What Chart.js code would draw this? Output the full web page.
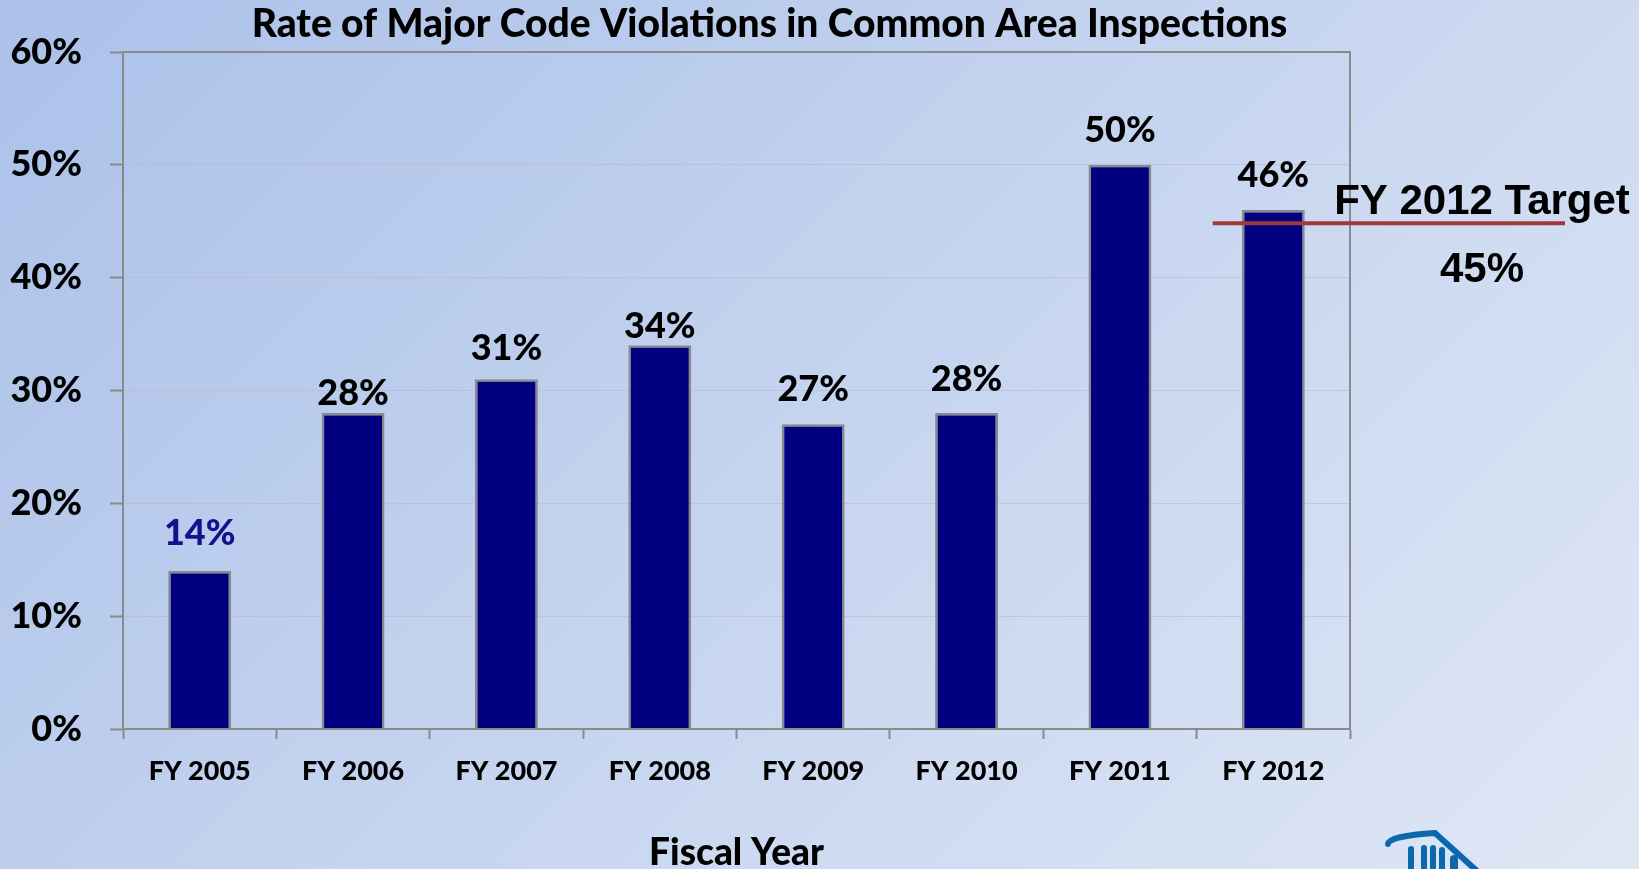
<!DOCTYPE html>
<html>
<head>
<meta charset="utf-8">
<script src="https://cdn.jsdelivr.net/npm/chart.js@4.4.0/dist/chart.umd.min.js"></script>
<style>
    html, body { margin: 0; padding: 0; }
    body {
        width: 1639px; height: 869px; overflow: hidden; position: relative;
        background: linear-gradient(135deg, #abc1e9 0%, #c5d4ef 50%, #dfe7f5 100%);
    }
    #chart { position: absolute; left: 0; top: 0; }
    #logo { position: absolute; left: 1380px; top: 825px; }
</style>
</head>
<body>
<canvas id="chart" width="1639" height="869"></canvas>
<svg id="logo" width="100" height="44" viewBox="0 0 100 44">
    <g fill="none" stroke="#0b68ac" stroke-linecap="round">
        <path d="M8 19 Q9 11 55 8 L97 46" stroke-width="6"/>
        <path d="M31 24 V46 M44 23 V46 M53 23 V46 M62 25 V46" stroke-width="6"/>
        <path d="M74 34 V46" stroke-width="8"/>
    </g>
</svg>
<script>
const years = ['FY 2005', 'FY 2006', 'FY 2007', 'FY 2008', 'FY 2009', 'FY 2010', 'FY 2011', 'FY 2012'];
const rates = [14, 28, 31, 34, 27, 28, 50, 46];
const yMin = 0;
const yMax = 60;
const yStep = 10;
const targetValue = 45;
const targetText = ['FY 2012 Target', '45%'];
const chartTitle = 'Rate of Major Code Violations in Common Area Inspections';
const xTitle = 'Fiscal Year';

const frameGray = '#8a8a8a';
const heavy = '900';
// gap between bar top and label baseline, labels were placed by hand in the original
const labelLift = [26, 8, 19, 7, 23, 22, 23, 23];

// frame, value labels, target line and title
const overlay = {
    id: 'overlay',
    afterDatasetsDraw(chart) {
        const { ctx, chartArea: a, scales: { x, y } } = chart;
        ctx.save();

        ctx.strokeStyle = frameGray;
        ctx.lineWidth = 2;
        ctx.strokeRect(a.left, a.top, a.right - a.left, a.bottom - a.top);

        ctx.font = heavy + ' 36px Lato';
        ctx.textAlign = 'center';
        ctx.textBaseline = 'alphabetic';
        chart.getDatasetMeta(0).data.forEach((bar, i) => {
            ctx.fillStyle = i === 0 ? '#12128c' : '#000';
            ctx.fillText(rates[i] + '%', bar.x, bar.y - labelLift[i]);
        });

        const ty = y.getPixelForValue(targetValue) + 2;
        const half = (x.getPixelForValue(1) - x.getPixelForValue(0)) / 2;
        const last = x.getPixelForValue(years.length - 1);
        ctx.strokeStyle = '#a0393c';
        ctx.lineWidth = 4;
        ctx.beginPath();
        ctx.moveTo(last - half * 0.79, ty);
        ctx.lineTo(a.right + 215, ty);
        ctx.stroke();

        ctx.fillStyle = '#000';
        ctx.font = 'bold 42px "Liberation Sans"';
        const tx = a.right + 132;
        ctx.fillText(targetText[0], tx, ty - 9);
        ctx.fillText(targetText[1], tx, ty + 59);

        ctx.font = heavy + ' 39px Lato';
        ctx.fillText(chartTitle, (a.left + a.right) / 2 + 33, a.top - 15);

        ctx.restore();
    }
};

new Chart(document.getElementById('chart'), {
    type: 'bar',
    data: {
        labels: years,
        datasets: [{
            data: rates,
            backgroundColor: '#000080',
            borderColor: frameGray,
            borderWidth: 2.5,
            barPercentage: 0.41,
            categoryPercentage: 1
        }]
    },
    options: {
        responsive: false,
        animation: false,
        layout: { padding: { top: 52, right: 289, left: 0, bottom: 0 } },
        plugins: {
            legend: { display: false },
            title: { display: false },
            tooltip: { enabled: false }
        },
        scales: {
            y: {
                min: yMin,
                max: yMax,
                ticks: {
                    stepSize: yStep,
                    padding: 28,
                    color: '#000',
                    font: { family: 'Lato', weight: heavy, size: 36 },
                    callback: v => v + '%'
                },
                grid: {
                    color: 'rgba(185,180,200,0.55)',
                    lineWidth: 1,
                    tickColor: frameGray,
                    tickWidth: 2,
                    tickLength: 13
                },
                border: { color: frameGray, width: 2 },
                afterFit: s => { s.width = 123; }
            },
            x: {
                ticks: {
                    padding: 16,
                    color: '#000',
                    font: { family: 'Lato', weight: heavy, size: 27 }
                },
                grid: {
                    drawOnChartArea: false,
                    tickColor: frameGray,
                    tickWidth: 2,
                    tickLength: 10
                },
                border: { color: frameGray, width: 2 },
                title: {
                    display: true,
                    text: xTitle,
                    color: '#000',
                    font: { family: 'Lato', weight: heavy, size: 37, lineHeight: 0.85 },
                    padding: { top: 0, bottom: 0 }
                },
                afterFit: s => { s.height = 140; }
            }
        }
    },
    plugins: [overlay]
});
</script>
</body>
</html>
